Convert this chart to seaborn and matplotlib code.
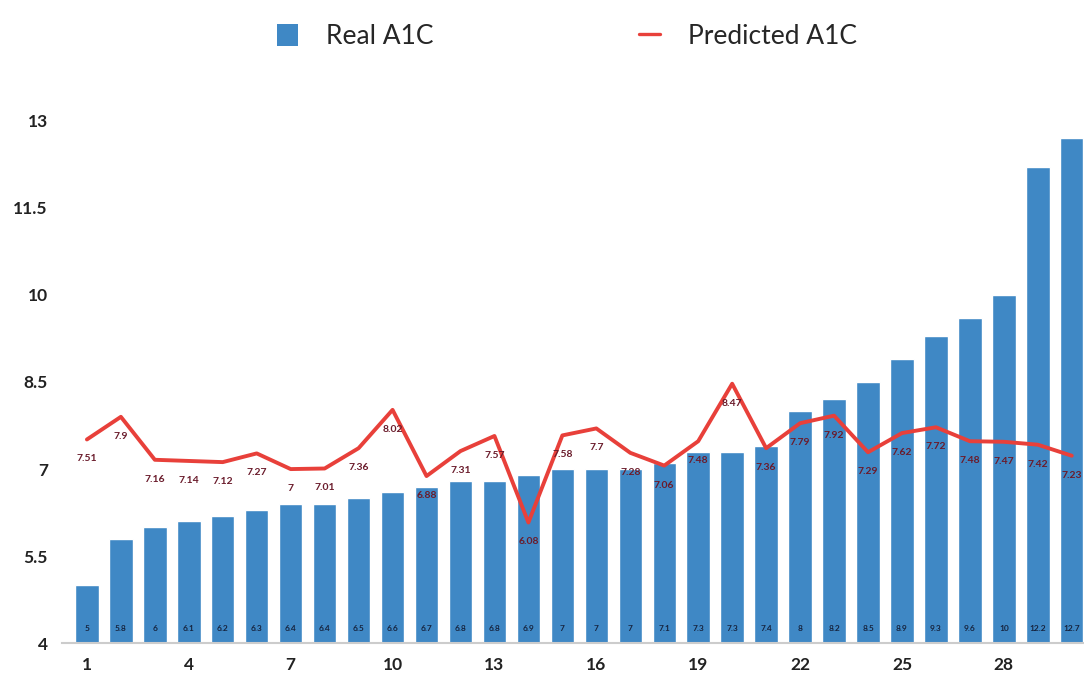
import matplotlib
matplotlib.use("Agg")
import matplotlib.pyplot as plt
import seaborn as sns
import pandas as pd
from matplotlib.patches import Patch
from matplotlib.lines import Line2D

patients = list(range(1, 31))
real_a1c = [5, 5.8, 6, 6.1, 6.2, 6.3, 6.4, 6.4, 6.5, 6.6, 6.7, 6.8, 6.8, 6.9, 7,
            7, 7, 7.1, 7.3, 7.3, 7.4, 8, 8.2, 8.5, 8.9, 9.3, 9.6, 10, 12.2, 12.7]
pred_a1c = [7.51, 7.9, 7.16, 7.14, 7.12, 7.27, 7, 7.01, 7.36, 8.02, 6.88, 7.31, 7.57, 6.08, 7.58,
            7.7, 7.28, 7.06, 7.48, 8.47, 7.36, 7.79, 7.92, 7.29, 7.62, 7.72, 7.48, 7.47, 7.42, 7.23]
y_ticks = [4, 5.5, 7, 8.5, 10, 11.5, 13]
x_ticks = [1, 4, 7, 10, 13, 16, 19, 22, 25, 28]

df = pd.DataFrame({"patient": patients, "real": real_a1c, "pred": pred_a1c})

sns.set_theme(style="white")
plt.rcParams["font.family"] = ["Lato", "DejaVu Sans"]

fig = plt.figure(figsize=(10.84, 6.75), dpi=100)
ax = fig.add_axes([0.057, 0.047, 0.943, 0.80])

bar_color = "#3f88c5"
line_color = "#e8403a"

sns.barplot(data=df, x="patient", y="real", native_scale=True, color=bar_color,
            saturation=1, width=0.69, ax=ax, zorder=2)
sns.lineplot(data=df, x="patient", y="pred", color=line_color, linewidth=2.8,
             ax=ax, zorder=3)

ax.set_xlim(0.26, 30.36)
ax.set_ylim(4, 13.3)
ax.set_yticks(y_ticks)
ax.set_yticklabels([f"{t:g}" for t in y_ticks])
ax.set_xticks(x_ticks)
ax.set_xticklabels([str(t) for t in x_ticks])
ax.tick_params(axis="both", length=0, labelsize=12.5, colors="#222222")
ax.tick_params(axis="x", pad=10)
ax.tick_params(axis="y", pad=10)
for lab in ax.get_xticklabels() + ax.get_yticklabels():
    lab.set_fontweight("bold")
ax.set_xlabel("")
ax.set_ylabel("")
for s in ["top", "right", "left"]:
    ax.spines[s].set_visible(False)
ax.spines["bottom"].set_color("#cccccc")
ax.spines["bottom"].set_linewidth(1.5)

for p, r in zip(patients, real_a1c):
    ax.text(p, 4.25, f"{r:g}", ha="center", va="center", fontsize=6,
            fontweight="bold", color="#16243f", zorder=4)

for p, v in zip(patients, pred_a1c):
    ax.annotate(f"{v:g}", (p, v), xytext=(0, -14), textcoords="offset points",
                ha="center", va="center", fontsize=7.5, fontweight="bold",
                color="#6a1b2b", zorder=5)

handles = [Patch(facecolor=bar_color, edgecolor="none"),
           Line2D([0], [0], color=line_color, linewidth=2.4)]
fig.legend(handles, ["Real A1C", "Predicted A1C"], loc="upper center",
           bbox_to_anchor=(0.523, 1.0), ncol=2, frameon=False, fontsize=19,
           handlelength=0.8, handleheight=0.9, handletextpad=1.06, columnspacing=7.8)

fig.savefig("out.png", dpi=100)
